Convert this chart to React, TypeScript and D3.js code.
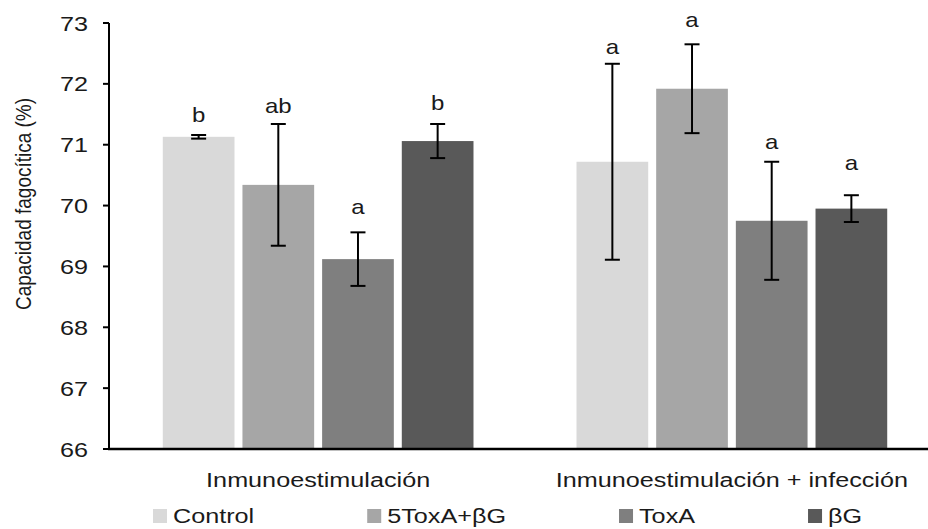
import React, { useEffect, useRef } from "react";
import * as d3 from "d3";

// ---- data ----
const groups = ["Inmunoestimulación", "Inmunoestimulación + infección"];
const series = ["Control", "5ToxA+βG", "ToxA", "βG"];
const colors = ["#d9d9d9", "#a6a6a6", "#7f7f7f", "#595959"];
// means per group, in series order
const meansG1 = [71.13, 70.34, 69.12, 71.06];
const meansG2 = [70.72, 71.92, 69.75, 69.95];
// error (±)
const errG1 = [0.03, 1.0, 0.44, 0.28];
const errG2 = [1.61, 0.73, 0.97, 0.22];
// significance letters and their baseline level (%)
const lettersG1 = ["b", "ab", "a", "b"];
const lettersG2 = ["a", "a", "a", "a"];
const letterYG1 = [71.38, 71.52, 69.86, 71.57];
const letterYG2 = [72.49, 72.94, 70.93, 70.58];
const yTicks = [66, 67, 68, 69, 70, 71, 72, 73];
const yTitle = "Capacidad fagocítica (%)";

const W = 928;
const H = 529;
const FONT = "'Liberation Sans', Arial, sans-serif";
const SX = 1.2;
const TXT = "#1a1a1a";

export default function App() {
  const ref = useRef<SVGSVGElement | null>(null);

  useEffect(() => {
    document.body.style.margin = "0";
    const svg = d3.select(ref.current);
    svg.selectAll("*").remove();

    const y = d3.scaleLinear().domain([66, 73]).range([449, 23]);
    const x0 = d3.scaleBand().domain(groups).range([109, 941]).paddingInner(0.249).paddingOuter(0.13);
    const x1 = d3.scaleBand().domain(series).range([0, x0.bandwidth()]).paddingInner(0.1).paddingOuter(0);

    const table = groups.map((g, gi) => ({
      group: g,
      items: series.map((s, si) => ({
        series: s,
        color: colors[si],
        mean: gi === 0 ? meansG1[si] : meansG2[si],
        err: gi === 0 ? errG1[si] : errG2[si],
        letter: gi === 0 ? lettersG1[si] : lettersG2[si],
        letterY: gi === 0 ? letterYG1[si] : letterYG2[si],
      })),
    }));

    const stretchText = (
      sel: any,
      tx: number,
      ty: number,
      text: string,
      size: number,
      anchor: string,
      rotate = 0
    ) => {
      const g = sel.append("g").attr("transform", `translate(${tx},${ty}) scale(${SX},1)${rotate ? ` rotate(${rotate})` : ""}`);
      const t = g
        .append("text")
        .attr("font-family", FONT)
        .attr("font-size", size)
        .attr("fill", TXT)
        .attr("text-anchor", anchor)
        .text(text);
      return t;
    };

    const root = svg.append("g");

    // bars
    table.forEach((grp) => {
      const gx = x0(grp.group)!;
      const gg = root.append("g").attr("transform", `translate(${gx},0)`);
      grp.items.forEach((it) => {
        const bx = x1(it.series)!;
        const cx = bx + x1.bandwidth() / 2;
        gg.append("rect")
          .attr("x", bx)
          .attr("y", y(it.mean))
          .attr("width", x1.bandwidth())
          .attr("height", y(66) - y(it.mean))
          .attr("fill", it.color);
        const top = y(it.mean + it.err);
        const bot = y(it.mean - it.err);
        const cap = 7.5;
        gg.append("line").attr("x1", cx).attr("x2", cx).attr("y1", top).attr("y2", bot).attr("stroke", "#000").attr("stroke-width", 2);
        gg.append("line").attr("x1", cx - cap).attr("x2", cx + cap).attr("y1", top).attr("y2", top).attr("stroke", "#000").attr("stroke-width", 2);
        gg.append("line").attr("x1", cx - cap).attr("x2", cx + cap).attr("y1", bot).attr("y2", bot).attr("stroke", "#000").attr("stroke-width", 2);
        stretchText(gg, cx, y(it.letterY), it.letter, 20, "middle");
      });
      // category label
      stretchText(root, gx + x0.bandwidth() / 2, 487, grp.group, 21, "middle");
    });

    // axes
    root.append("line").attr("x1", 109).attr("x2", 109).attr("y1", y(73)).attr("y2", y(66)).attr("stroke", "#000").attr("stroke-width", 2);
    root.append("line").attr("x1", 108).attr("x2", W).attr("y1", y(66)).attr("y2", y(66)).attr("stroke", "#000").attr("stroke-width", 2.5);
    yTicks.forEach((t) => {
      root.append("line").attr("x1", 103).attr("x2", 109).attr("y1", y(t)).attr("y2", y(t)).attr("stroke", "#000").attr("stroke-width", 2);
      stretchText(root, 88, y(t) + 7.5, String(t), 21, "end");
    });

    // y title
    stretchText(root, 31, 204, yTitle, 19, "middle", -90);

    // legend
    let lx = 153;
    series.forEach((s, si) => {
      root.append("rect").attr("x", lx).attr("y", 509).attr("width", 14).attr("height", 14).attr("fill", colors[si]);
      const t = stretchText(root, lx + 20, 523, s, 21, "start");
      const w = (t.node() as SVGTextElement).getComputedTextLength() * SX;
      lx = lx + 20 + w + 113;
    });
  }, []);

  return <svg ref={ref} width={W} height={H} style={{ display: "block", background: "#fff" }} />;
}
